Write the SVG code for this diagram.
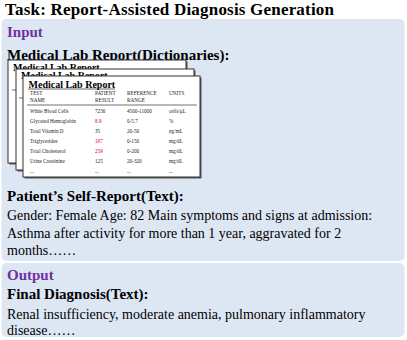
<svg xmlns="http://www.w3.org/2000/svg" width="407" height="340" viewBox="0 0 407 340">
<style>
text{font-family:"Liberation Serif","Times New Roman",serif;fill:#000}
.b{font-weight:bold}
.h{font-weight:bold;fill:#7030a0;font-size:15px}
.t{font-size:14px}
.hb{font-size:15px;font-weight:bold}
.box{fill:#dde7f4}
.paper{fill:#fff;stroke:#333;stroke-width:1}
.sh{fill:#555}
.pt{font-size:10px;font-weight:bold}
.s{font-size:5.2px;fill:#222}
.r{fill:#e00000}
.rule{stroke:#333;stroke-width:0.7}
</style>
<text x="5" y="15.2" class="b" font-size="17" textLength="329" lengthAdjust="spacing">Task: Report-Assisted Diagnosis Generation</text>
<g id="input">
<rect class="box" x="1.5" y="19" width="403" height="242" rx="5"/>
<text x="7" y="37" class="h">Input</text>
<text x="7" y="59.5" class="hb">Medical Lab Report(Dictionaries):</text>
<g id="paper-back">
<rect class="sh" x="9.5" y="61.5" width="178" height="103"/>
<rect class="paper" x="8" y="60" width="178" height="103"/>
<text x="13" y="70.5" class="pt">Medical Lab Report</text>
<line class="rule" x1="12" y1="90" x2="182" y2="90"/>
</g>
<g id="paper-middle">
<rect class="sh" x="17.5" y="70.5" width="178" height="101"/>
<rect class="paper" x="16" y="69" width="178" height="101"/>
<text x="21" y="79" class="pt">Medical Lab Report</text>
<line class="rule" x1="19" y1="98" x2="190" y2="98"/>
</g>
<g id="paper-front">
<rect class="sh" x="24.5" y="77.5" width="177" height="101"/>
<rect class="paper" x="23" y="76" width="177" height="101"/>
<text x="28.5" y="87.5" class="pt">Medical Lab Report</text>
<line x1="28" y1="89" x2="115" y2="89" stroke="#000" stroke-width="0.6"/>
<text x="30" y="95" class="s">TEST</text><text x="30" y="101.5" class="s">NAME</text>
<text x="95" y="95" class="s">PATIENT</text><text x="95" y="101.5" class="s">RESULT</text>
<text x="127" y="95" class="s">REFERENCE</text><text x="127" y="101.5" class="s">RANGE</text>
<text x="169" y="95" class="s">UNITS</text>
<line class="rule" x1="27" y1="105" x2="197" y2="105"/>
<text x="30" y="112.5" class="s">White Blood Cells</text><text x="95" y="112.5" class="s">7256</text><text x="127" y="112.5" class="s">4500-11000</text><text x="169" y="112.5" class="s">cells/μL</text>
<text x="30" y="122.7" class="s">Glycated Hemoglobin</text><text x="95" y="122.7" class="s r">8.9</text><text x="127" y="122.7" class="s">0-5.7</text><text x="169" y="122.7" class="s">%</text>
<text x="30" y="132.7" class="s">Total Vitamin D</text><text x="95" y="132.7" class="s">35</text><text x="127" y="132.7" class="s">20-50</text><text x="169" y="132.7" class="s">ng/mL</text>
<text x="30" y="142.7" class="s">Triglycerides</text><text x="95" y="142.7" class="s r">187</text><text x="127" y="142.7" class="s">0-150</text><text x="169" y="142.7" class="s">mg/dL</text>
<text x="30" y="152.7" class="s">Total Cholesterol</text><text x="95" y="152.7" class="s r">259</text><text x="127" y="152.7" class="s">0-200</text><text x="169" y="152.7" class="s">mg/dL</text>
<text x="30" y="162.7" class="s">Urine Creatinine</text><text x="95" y="162.7" class="s">125</text><text x="127" y="162.7" class="s">20-320</text><text x="169" y="162.7" class="s">mg/dL</text>
<text x="30" y="173.3" class="s">...</text><text x="95" y="173.3" class="s">...</text><text x="127" y="173.3" class="s">...</text><text x="169" y="173.3" class="s">...</text>
</g>
<text x="7" y="200.5" class="hb">Patient’s Self-Report(Text):</text>
<text x="7" y="219.5" class="t">Gender: Female Age: 82 Main symptoms and signs at admission:</text>
<text x="7" y="237.5" class="t">Asthma after activity for more than 1 year, aggravated for 2</text>
<text x="7" y="255" class="t">months……</text>
</g>
<g id="output">
<rect class="box" x="1.5" y="263" width="403" height="74" rx="5"/>
<text x="7" y="280" class="h">Output</text>
<text x="7" y="299" class="hb">Final Diagnosis(Text):</text>
<text x="7" y="318.5" class="t">Renal insufficiency, moderate anemia, pulmonary inflammatory</text>
<text x="7" y="335" class="t">disease……</text>
</g>
<g id="connectors"/>
</svg>
